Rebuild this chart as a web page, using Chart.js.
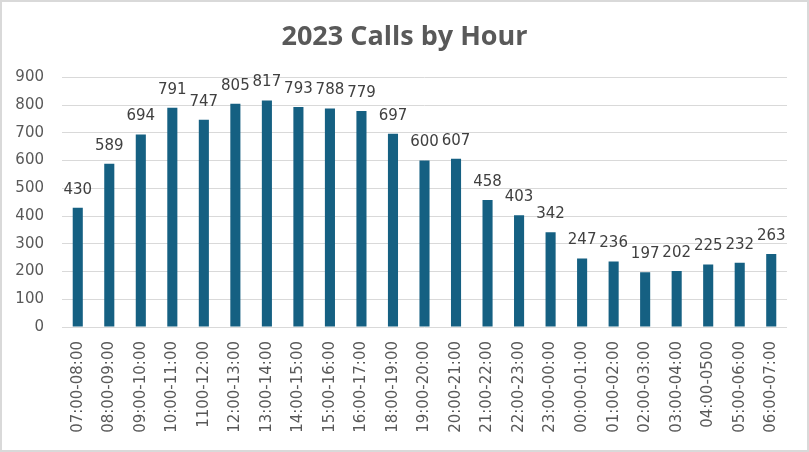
<!DOCTYPE html>
<html>
<head>
<meta charset="utf-8">
<script src="https://cdn.jsdelivr.net/npm/chart.js@4/dist/chart.umd.min.js"></script>
<style>
  html, body { margin: 0; padding: 0; background: #fff; }
  #wrap { position: relative; width: 805px; height: 448px; border: 2px solid #d9d9d9; }
</style>
</head>
<body>
<div id="wrap"><canvas id="chart"></canvas></div>
<script>
// data
const hours = [
    '07:00-08:00', '08:00-09:00', '09:00-10:00', '10:00-11:00', '1100-12:00',
    '12:00-13:00', '13:00-14:00', '14:00-15:00', '15:00-16:00', '16:00-17:00',
    '18:00-19:00', '19:00-20:00', '20:00-21:00', '21:00-22:00', '22:00-23:00',
    '23:00-00:00', '00:00-01:00', '01:00-02:00', '02:00-03:00', '03:00-04:00',
    '04:00-0500', '05:00-06:00', '06:00-07:00'
];
const calls = [430, 589, 694, 791, 747, 805, 817, 793, 788, 779, 697, 600, 607,
    458, 403, 342, 247, 236, 197, 202, 225, 232, 263];
const yTicks = [0, 100, 200, 300, 400, 500, 600, 700, 800, 900];

const tickFont = "'DejaVu Sans', sans-serif";

// draws the value above each bar
const valueLabels = {
    id: 'valueLabels',
    afterDatasetsDraw(chart) {
        const ctx = chart.ctx;
        const meta = chart.getDatasetMeta(0);
        ctx.save();
        ctx.font = '15px ' + tickFont;
        ctx.fillStyle = '#404040';
        ctx.textAlign = 'center';
        ctx.textBaseline = 'middle';
        meta.data.forEach((bar, i) => {
            ctx.fillText(chart.data.datasets[0].data[i], bar.x, bar.y - 18);
        });
        ctx.restore();
    }
};

// title centred on the whole canvas, not on the padded box
const centerTitle = {
    id: 'centerTitle',
    afterLayout(chart) {
        const t = chart.titleBlock;
        if (t) {
            t.left = 0;
            t.right = chart.width;
            t.width = chart.width;
        }
    }
};

const ctx = document.getElementById('chart').getContext('2d');
new Chart(ctx, {
    type: 'bar',
    data: {
        labels: hours,
        datasets: [{
            label: 'Calls',
            data: calls,
            backgroundColor: '#156082',
            barPercentage: 0.32,
            categoryPercentage: 1.0
        }]
    },
    options: {
        responsive: true,
        maintainAspectRatio: false,
        animation: false,
        layout: { padding: { left: 5, right: 20, top: 0, bottom: 10 } },
        plugins: {
            legend: { display: false },
            tooltip: { enabled: false },
            title: {
                display: true,
                text: '2023 Calls by Hour',
                color: '#595959',
                font: { family: "'Open Sans', sans-serif", size: 27, weight: 'bold' },
                padding: { top: 19, bottom: 24 }
            }
        },
        scales: {
            x: {
                grid: { display: false, drawTicks: false },
                border: { display: false },
                afterFit: (scale) => { scale.height = 113; },
                ticks: {
                    color: '#595959',
                    font: { family: tickFont, size: 15 },
                    minRotation: 90,
                    maxRotation: 90,
                    autoSkip: false,
                    padding: 14
                }
            },
            y: {
                min: 0,
                max: 900,
                afterBuildTicks: (scale) => { scale.ticks = yTicks.map(v => ({ value: v })); },
                afterFit: (scale) => { scale.width = 55; },
                grid: { color: '#d9d9d9', lineWidth: 1, drawTicks: false },
                border: { display: false },
                ticks: {
                    color: '#595959',
                    font: { family: tickFont, size: 15 },
                    padding: 18
                }
            }
        }
    },
    plugins: [valueLabels, centerTitle]
});
</script>
</body>
</html>
